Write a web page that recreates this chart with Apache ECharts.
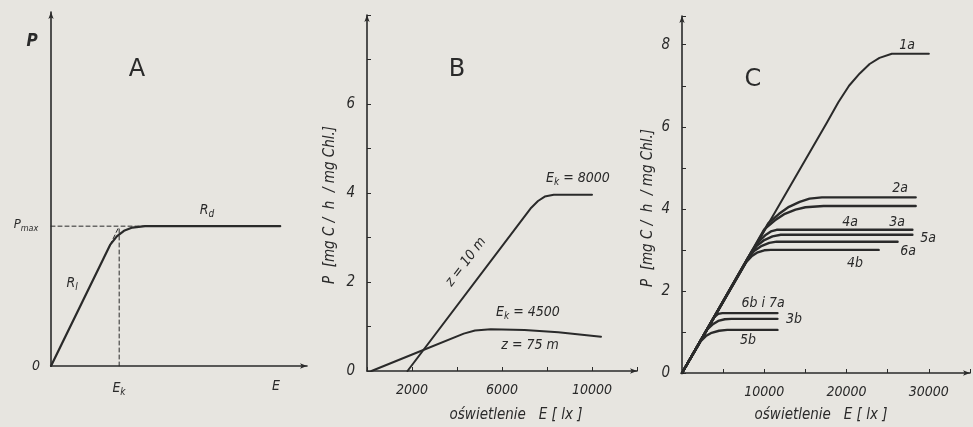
<!DOCTYPE html>
<html>
<head>
<meta charset="utf-8">
<script src="https://cdn.jsdelivr.net/npm/echarts@6/dist/echarts.min.js"></script>
<style>
  html, body { margin: 0; padding: 0; background: #e7e5e0; }
  #chart { width: 973px; height: 427px; }
</style>
</head>
<body>
<div id="chart"></div>
<script>
// --- panel A (schematic, arbitrary units) ---
const aCurve = [[0, 0], [2.47, 3.42], [2.75, 3.66], [3.05, 3.82], [3.4, 3.91], [3.93, 3.95], [9.58, 3.95]];
const aPmaxLine = [[0, 3.95], [3.93, 3.95]];
const aEkLine = [[2.85, 0], [2.85, 3.95]];
const aExtrap = [[2.47, 3.42], [2.85, 3.95]];

// --- panel B ---
const bZ10 = [[1800, 0], [7300, 3.67], [7600, 3.82], [7900, 3.92], [8300, 3.96], [10000, 3.96]];
const bZ75 = [[200, 0], [2200, 0.41], [4300, 0.84], [4800, 0.91], [5500, 0.94], [7000, 0.92], [8500, 0.87], [10400, 0.77]];
const bXLabels = [2000, 6000, 10000];
const bYLabels = [0, 2, 4, 6];

// --- panel C ---
const c1a = [[0, 0], [17600, 6.1], [19000, 6.6], [20300, 7.0], [21600, 7.3], [22800, 7.53], [24000, 7.68], [25500, 7.78], [30000, 7.78]];
const c2a = [[0, 0], [10500, 3.65], [11800, 3.88], [13000, 4.05], [14300, 4.17], [15500, 4.25], [17000, 4.28], [28400, 4.28]];
const c3a = [[0, 0], [10000, 3.5], [11300, 3.72], [12500, 3.88], [13800, 3.98], [15000, 4.04], [17200, 4.07], [28400, 4.07]];
const c4a = [[0, 0], [8500, 2.97], [9300, 3.2], [10200, 3.37], [10800, 3.45], [11500, 3.49], [28000, 3.49]];
const c5a = [[0, 0], [8300, 2.9], [9100, 3.1], [10000, 3.24], [11000, 3.33], [12000, 3.37], [28000, 3.37]];
const c6a = [[0, 0], [8000, 2.8], [8800, 2.98], [9700, 3.1], [10600, 3.17], [11500, 3.2], [26200, 3.2]];
const c4b = [[0, 0], [7800, 2.7], [8500, 2.85], [9200, 2.94], [10000, 2.99], [10800, 3.0], [23900, 3.0]];
const c6b7a = [[0, 0], [3900, 1.36], [4400, 1.44], [4900, 1.46], [11600, 1.46]];
const c3b = [[0, 0], [3000, 1.05], [3700, 1.18], [4400, 1.27], [5200, 1.31], [6000, 1.32], [11600, 1.32]];
const c5b = [[0, 0], [2300, 0.78], [2900, 0.9], [3600, 0.98], [4500, 1.03], [5500, 1.05], [11600, 1.05]];
const cXLabels = [10000, 20000, 30000];
const cYLabels = [0, 2, 4, 6, 8];

const INK = '#2a2a2a';
const FONT = '"DejaVu Sans Condensed","Liberation Sans Narrow","DejaVu Sans",sans-serif';

let chart = echarts.init(document.getElementById('chart'));

function axisLine() {
  return { show: true, lineStyle: { color: INK, width: 1.6 }, symbol: ['none', 'arrow'], symbolSize: [4, 7] };
}
function line(data, grid, dashed, width) {
  return {
    type: 'line', xAxisIndex: grid, yAxisIndex: grid, data: data,
    showSymbol: false, smooth: false,
    lineStyle: { color: INK, width: width || 2, type: dashed ? [4, 3] : 'solid', join: 'round', cap: 'round' },
    silent: true, z: dashed ? 1 : 3
  };
}
function txt(x, y, text, size, opts) {
  opts = opts || {};
  return {
    type: 'text', x: x, y: y, rotation: opts.rot || 0, z: 10,
    style: {
      text: text, fill: INK, align: 'center', verticalAlign: 'middle',
      font: (opts.upright ? '' : 'italic ') + (opts.bold ? 'bold ' : '') + size + 'px ' + (opts.upright ? '"DejaVu Sans",sans-serif' : FONT),
      rich: {
        s: { fontSize: size - 4, fontStyle: 'italic', fontFamily: FONT, fill: INK, padding: [8, 0, 0, 0] },
        n: { fontSize: size, fontStyle: 'italic', fontFamily: FONT, fill: INK }
      }
    }
  };
}

let option = {
  backgroundColor: '#e7e5e0',
  animation: false,
  grid: [
    { left: 51, top: 12, width: 256, height: 354 },
    { left: 367, top: 15, width: 270, height: 356 },
    { left: 682, top: 16, width: 289, height: 357 }
  ],
  xAxis: [
    { gridIndex: 0, type: 'value', min: 0, max: 10.7, splitLine: { show: false },
      axisLine: axisLine(), axisTick: { show: false }, axisLabel: { show: false } },
    { gridIndex: 1, type: 'value', min: 0, max: 12000, interval: 2000, splitLine: { show: false },
      axisLine: axisLine(), axisTick: { inside: true, length: 4, lineStyle: { color: INK } },
      axisLabel: { margin: 12, color: INK, fontStyle: 'italic', fontSize: 14, fontFamily: FONT,
        formatter: v => bXLabels.includes(v) ? String(v) : '' } },
    { gridIndex: 2, type: 'value', min: 0, max: 35000, interval: 5000, splitLine: { show: false },
      axisLine: axisLine(), axisTick: { inside: true, length: 4, lineStyle: { color: INK } },
      axisLabel: { margin: 12, color: INK, fontStyle: 'italic', fontSize: 14, fontFamily: FONT,
        formatter: v => cXLabels.includes(v) ? String(v) : '' } }
  ],
  yAxis: [
    { gridIndex: 0, type: 'value', min: 0, max: 10, splitLine: { show: false },
      axisLine: axisLine(), axisTick: { show: false }, axisLabel: { show: false } },
    { gridIndex: 1, type: 'value', min: 0, max: 8, interval: 1, splitLine: { show: false },
      axisLine: axisLine(), axisTick: { inside: true, length: 4, lineStyle: { color: INK } },
      axisLabel: { margin: 12, color: INK, fontStyle: 'italic', fontSize: 15, fontFamily: FONT,
        formatter: v => bYLabels.includes(v) ? String(v) : '' } },
    { gridIndex: 2, type: 'value', min: 0, max: 8.7, interval: 1, splitLine: { show: false },
      axisLine: axisLine(), axisTick: { inside: true, length: 4, lineStyle: { color: INK } },
      axisLabel: { margin: 12, color: INK, fontStyle: 'italic', fontSize: 15, fontFamily: FONT,
        formatter: v => cYLabels.includes(v) ? String(v) : '' } }
  ],
  series: [
    line(aCurve, 0, false, 2.2),
    line(aPmaxLine, 0, true, 1),
    line(aEkLine, 0, true, 1),
    line(aExtrap, 0, true, 1),
    line(bZ10, 1, false, 2),
    line(bZ75, 1, false, 2),
    line(c1a, 2), line(c2a, 2, false, 2.4), line(c3a, 2, false, 2.4), line(c4a, 2, false, 2.4),
    line(c5a, 2, false, 2.4), line(c6a, 2, false, 2.4), line(c4b, 2, false, 2.4),
    line(c6b7a, 2, false, 2.4), line(c3b, 2, false, 2.4), line(c5b, 2, false, 2.4)
  ],
  graphic: [
    // panel A
    txt(32, 42, 'P', 17, { bold: true }),
    txt(137, 70, 'A', 24, { upright: true }),
    txt(26, 225, '{n|P}{s|max}', 13),
    txt(36, 366, '0', 14),
    txt(119, 388, '{n|E}{s|k}', 14),
    txt(276, 386, 'E', 14),
    txt(207, 210, '{n|R}{s|d}', 14),
    txt(72, 283, '{n|R}{s|l}', 14),
    // panel B
    txt(457, 70, 'B', 24, { upright: true }),
    txt(578, 178, '{n|E}{s|k}{n| = 8000}', 14),
    txt(528, 312, '{n|E}{s|k}{n| = 4500}', 14),
    txt(530, 345, 'z = 75 m', 14),
    txt(466, 262, 'z = 10 m', 14, { rot: 52.8 * Math.PI / 180 }),
    txt(330, 205, 'P  [mg C /  h  / mg Chl.]', 15, { rot: Math.PI / 2 }),
    txt(516, 415, 'oświetlenie   E [ lx ]', 15),
    // panel C
    txt(753, 80, 'C', 24, { upright: true }),
    txt(907, 45, '1a', 14),
    txt(900, 188, '2a', 14),
    txt(850, 222, '4a', 14),
    txt(897, 222, '3a', 14),
    txt(928, 238, '5a', 14),
    txt(908, 251, '6a', 14),
    txt(855, 263, '4b', 14),
    txt(763, 303, '6b i 7a', 14),
    txt(794, 319, '3b', 14),
    txt(748, 340, '5b', 14),
    txt(648, 208, 'P  [mg C /  h  / mg Chl.]', 15, { rot: Math.PI / 2 }),
    txt(821, 415, 'oświetlenie   E [ lx ]', 15)
  ]
};

chart.setOption(option);
window.onresize = chart.resize;
</script>
</body>
</html>
